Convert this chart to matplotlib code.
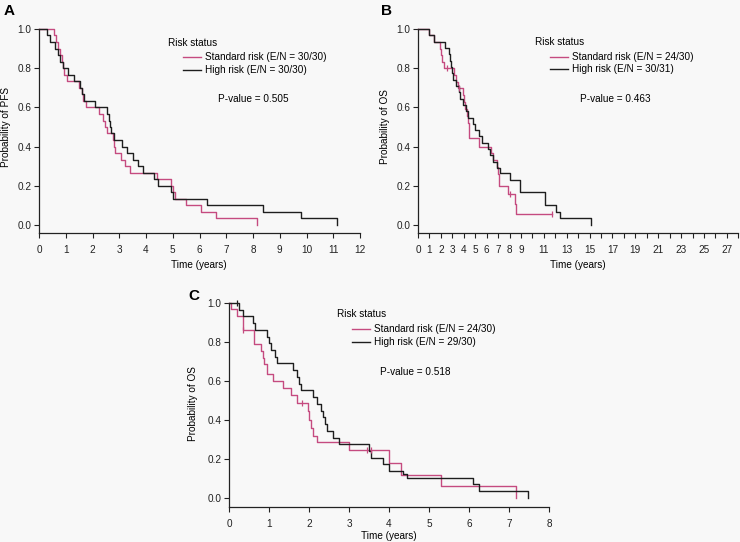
import matplotlib
matplotlib.use("Agg")
import matplotlib.pyplot as plt
from matplotlib.lines import Line2D

plt.rcParams["font.family"] = ["Liberation Sans", "DejaVu Sans"]

# --------------------------------------------------
# Data
# --------------------------------------------------

# A: PFS
a_std_t = [0, 0.55, 0.65, 0.72, 0.8, 0.85, 0.9, 0.95, 1.05, 1.5, 1.6, 1.65, 1.75,
           2.25, 2.4, 2.45, 2.55, 2.75, 2.8, 2.85, 3.05, 3.2, 3.4, 4.4, 4.95, 5.0,
           5.1, 5.5, 6.05, 6.6, 8.15]
a_std_s = [1.0, 0.967, 0.933, 0.9, 0.867, 0.833, 0.8, 0.767, 0.733, 0.7, 0.667, 0.633,
           0.6, 0.567, 0.533, 0.5, 0.467, 0.433, 0.4, 0.367, 0.333, 0.3, 0.267, 0.233,
           0.2, 0.167, 0.133, 0.1, 0.067, 0.033, 0.0]
a_high_t = [0, 0.31, 0.42, 0.6, 0.7, 0.8, 0.9, 1.1, 1.3, 1.55, 1.6, 1.7, 2.1, 2.55,
            2.6, 2.65, 2.7, 2.8, 3.1, 3.3, 3.5, 3.7, 3.9, 4.3, 4.45, 4.95, 5.0, 6.28,
            8.38, 9.8, 11.15]
a_high_s = [1.0, 0.967, 0.933, 0.9, 0.867, 0.833, 0.8, 0.767, 0.733, 0.7, 0.667, 0.633,
            0.6, 0.567, 0.533, 0.5, 0.467, 0.433, 0.4, 0.367, 0.333, 0.3, 0.267, 0.233,
            0.2, 0.167, 0.133, 0.1, 0.067, 0.033, 0.0]

# B: OS
b_std_t = [0, 1.0, 1.4, 1.9, 2.0, 2.1, 2.3, 3.15, 3.3, 3.5, 3.9, 4.0, 4.1, 4.3, 4.4,
           4.5, 5.3, 6.4, 6.6, 6.9, 7.0, 7.1, 7.85, 8.45, 8.6, 11.7]
b_std_s = [1.0, 0.967, 0.933, 0.9, 0.867, 0.833, 0.8, 0.766, 0.731, 0.697, 0.661,
           0.626, 0.591, 0.556, 0.52, 0.443, 0.4, 0.365, 0.33, 0.295, 0.26, 0.2, 0.16,
           0.107, 0.054, 0.054]
b_std_cens_t = [2.5, 3.6, 8.05, 11.7]
b_std_cens_s = [0.8, 0.697, 0.16, 0.054]
b_high_t = [0, 1.0, 1.4, 2.35, 2.7, 2.8, 2.9, 3.0, 3.1, 3.3, 3.6, 3.7, 3.95, 4.2, 4.4,
            4.8, 5.0, 5.3, 5.6, 6.1, 6.3, 6.6, 6.9, 7.15, 8.0, 8.9, 11.1, 12.1, 12.4,
            15.1]
b_high_s = [1.0, 0.968, 0.935, 0.903, 0.871, 0.839, 0.806, 0.774, 0.742, 0.71, 0.677,
            0.645, 0.613, 0.581, 0.548, 0.516, 0.484, 0.452, 0.419, 0.387, 0.355,
            0.323, 0.29, 0.265, 0.232, 0.167, 0.1, 0.067, 0.033, 0.0]

# C: OS
c_std_t = [0, 0.05, 0.2, 0.35, 0.62, 0.8, 0.85, 0.88, 0.95, 1.1, 1.35, 1.55, 1.7,
           1.98, 2.0, 2.05, 2.1, 2.2, 3.0, 4.0, 4.3, 5.3, 7.17]
c_std_s = [1.0, 0.967, 0.933, 0.86, 0.79, 0.755, 0.72, 0.685, 0.635, 0.6, 0.565, 0.527,
           0.486, 0.445, 0.4, 0.36, 0.32, 0.285, 0.245, 0.18, 0.12, 0.06, 0.0]
c_std_cens_t = [0.35, 1.82, 3.45, 3.55]
c_std_cens_s = [0.86, 0.486, 0.245, 0.245]
c_high_t = [0, 0.25, 0.35, 0.6, 0.65, 0.95, 1.0, 1.05, 1.15, 1.2, 1.6, 1.7, 1.75, 1.8,
            2.1, 2.2, 2.3, 2.35, 2.4, 2.45, 2.6, 2.75, 3.5, 3.55, 3.85, 4.0, 4.35,
            4.45, 6.1, 6.25, 7.47]
c_high_s = [1.0, 0.966, 0.931, 0.897, 0.862, 0.828, 0.793, 0.759, 0.724, 0.69, 0.655,
            0.621, 0.586, 0.552, 0.517, 0.483, 0.448, 0.414, 0.379, 0.345, 0.31, 0.276,
            0.241, 0.207, 0.172, 0.138, 0.121, 0.103, 0.069, 0.035, 0.0]
c_high_cens_t = [0.19]
c_high_cens_s = [1.0]

# --------------------------------------------------
# Style
# --------------------------------------------------

W, H = 740, 542
BG = "#f8f8f8"
PINK = "#c54b80"
BLACK = "#1e1e1e"
FS = 7.2

fig = plt.figure(figsize=(W / 100, H / 100), dpi=100, facecolor=BG)


def fx(px):
    return px / W


def fy(py):
    return 1 - py / H


def make_axes(left, right, top, bottom, xmax, ybottom):
    ax = fig.add_axes([fx(left), fy(bottom), (right - left) / W, (bottom - top) / H])
    ax.set_facecolor(BG)
    ax.set_xlim(0, xmax)
    ax.set_ylim(ybottom, 1.0)
    for s in ["top", "right"]:
        ax.spines[s].set_visible(False)
    for s in ["left", "bottom"]:
        ax.spines[s].set_linewidth(0.9)
        ax.spines[s].set_color("#222222")
    ax.set_yticks([0, 0.2, 0.4, 0.6, 0.8, 1.0])
    ax.set_yticklabels(["0.0", "0.2", "0.4", "0.6", "0.8", "1.0"])
    ax.tick_params(axis="y", length=3.5, width=0.8, pad=2, labelsize=FS, colors="#222222")
    ax.tick_params(axis="x", length=3.5, width=0.8, pad=5, labelsize=FS, colors="#222222")
    return ax


def km(ax, t, s, color):
    ax.step(t, s, where="post", color=color, lw=1.0, clip_on=False)


def censor(ax, t, s, color):
    ax.plot(t, s, ls="none", marker="|", ms=4, mew=0.9, color=color, clip_on=False)


def legend_block(x, y_title, y_pink, y_black, std_lab, high_lab, pval_x, pval_y, pval):
    fig.text(fx(x), fy(y_title), "Risk status", fontsize=FS, va="center", ha="left")
    for yy, col, lab in [(y_pink, PINK, std_lab), (y_black, BLACK, high_lab)]:
        fig.add_artist(Line2D([fx(x + 15), fx(x + 33)], [fy(yy), fy(yy)], color=col, lw=1.0))
        fig.text(fx(x + 37), fy(yy), lab, fontsize=FS, va="center", ha="left")
    fig.text(fx(pval_x), fy(pval_y), pval, fontsize=FS, va="center", ha="left")


# --------------------------------------------------
# Panel A
# --------------------------------------------------

ax_a = make_axes(39, 360, 29, 233, 12, -0.041)
ax_a.set_xticks(range(0, 13))
km(ax_a, a_std_t, a_std_s, PINK)
km(ax_a, a_high_t, a_high_s, BLACK)
fig.text(fx(6), fy(127), "Probability of PFS", rotation=90, fontsize=FS, ha="center", va="center")
fig.text(fx(199), fy(265), "Time (years)", fontsize=FS, ha="center", va="center")
fig.text(fx(9), fy(11), "A", fontsize=11, fontweight="bold", ha="center", va="center")
legend_block(168, 43, 57, 70, "Standard risk (E/N = 30/30)", "High risk (E/N = 30/30)",
             218, 99, "P-value = 0.505")

# --------------------------------------------------
# Panel B
# --------------------------------------------------

ax_b = make_axes(418, 738.3, 29, 233, 28, -0.041)
ax_b.set_xticks(range(0, 29))
ax_b.set_xticklabels([str(i) if (i <= 9 or i % 2 == 1) else "" for i in range(0, 29)])
km(ax_b, b_std_t, b_std_s, PINK)
km(ax_b, b_high_t, b_high_s, BLACK)
censor(ax_b, b_std_cens_t, b_std_cens_s, PINK)
fig.text(fx(385), fy(127), "Probability of OS", rotation=90, fontsize=FS, ha="center", va="center")
fig.text(fx(578), fy(265), "Time (years)", fontsize=FS, ha="center", va="center")
fig.text(fx(386), fy(11), "B", fontsize=11, fontweight="bold", ha="center", va="center")
legend_block(535, 42, 57, 69, "Standard risk (E/N = 24/30)", "High risk (E/N = 30/31)",
             580, 99, "P-value = 0.463")

# --------------------------------------------------
# Panel C
# --------------------------------------------------

ax_c = make_axes(229, 549, 303, 506.7, 8, -0.045)
ax_c.set_xticks(range(0, 9))
km(ax_c, c_std_t, c_std_s, PINK)
km(ax_c, c_high_t, c_high_s, BLACK)
censor(ax_c, c_std_cens_t, c_std_cens_s, PINK)
censor(ax_c, c_high_cens_t, c_high_cens_s, BLACK)
fig.text(fx(193), fy(404), "Probability of OS", rotation=90, fontsize=FS, ha="center", va="center")
fig.text(fx(389), fy(536), "Time (years)", fontsize=FS, ha="center", va="center")
fig.text(fx(194), fy(296), "C", fontsize=11, fontweight="bold", ha="center", va="center")
legend_block(337, 314, 329, 342, "Standard risk (E/N = 24/30)", "High risk (E/N = 29/30)",
             380, 372, "P-value = 0.518")

fig.savefig("out.png", dpi=100, facecolor=BG)
